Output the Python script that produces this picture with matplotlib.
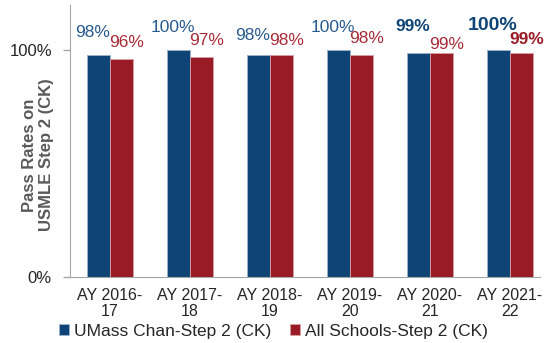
import numpy as np
import matplotlib.pyplot as plt

plt.rcParams['font.family'] = ['Liberation Sans', 'DejaVu Sans']

# Data
years = ["AY 2016-\n17", "AY 2017-\n18", "AY 2018-\n19", "AY 2019-\n20", "AY 2020-\n21", "AY 2021-\n22"]
umass = [98, 100, 98, 100, 99, 100]
all_schools = [96, 97, 98, 98, 99, 99]
umass_bold = [False, False, False, False, True, True]
all_bold = [False, False, False, False, False, True]

# label offsets above bars (style only)
umass_off = [7.9, 7.9, 6.6, 7.9, 9.7, 8.8]
all_off = [5.3, 5.3, 4.4, 5.3, 1.8, 4.0]

blue = '#0F4477'
red = '#981B25'
blue_txt = '#285A8F'
red_txt = '#A62B36'

W, H = 545, 343
fig = plt.figure(figsize=(W / 100, H / 100), dpi=100)
ax = fig.add_axes([70 / W, 1 - 277 / H, 470 / W, 272 / H])

x = np.arange(len(years))
bw = 0.2875
ax.bar(x - bw / 2, umass, bw, color=blue, edgecolor='#9DB3CC', linewidth=0.6, label="UMass Chan-Step 2 (CK)")
ax.bar(x + bw / 2, all_schools, bw, color=red, edgecolor='#D9A0A5', linewidth=0.6, label="All Schools-Step 2 (CK)")

for i in range(len(years)):
    fb = 'bold' if umass_bold[i] else 'normal'
    sb = 14 if (umass_bold[i] and i == 5) else 12.5
    ax.text(x[i] - bw / 2 - 0.07, umass[i] + umass_off[i], f"{umass[i]}%", ha='center', va='baseline',
            fontsize=sb, color=blue if umass_bold[i] else blue_txt, fontweight=fb, clip_on=False)
    fr = 'bold' if all_bold[i] else 'normal'
    ax.text(x[i] + bw / 2 + 0.06, all_schools[i] + all_off[i], f"{all_schools[i]}%", ha='center', va='baseline',
            fontsize=12.5, color=red if all_bold[i] else red_txt, fontweight=fr, clip_on=False)

ax.set_xlim(-0.5, 5.375)
ax.set_ylim(0, 120)
ax.set_yticks([0, 100])
ax.set_yticklabels(["0%", "100%"], fontsize=12, color='#262626')
ax.set_xticks(x)
ax.set_xticklabels(years, fontsize=11.5, color='#262626', linespacing=1.05)
ax.tick_params(axis='x', length=0, pad=8)
ax.tick_params(axis='y', length=5, color='#A6A6A6', width=1, pad=8)

for s in ['top', 'right']:
    ax.spines[s].set_visible(False)
for s in ['left', 'bottom']:
    ax.spines[s].set_color('#A6A6A6')

fig.text(38 / W, 1 - 155 / H, "Pass Rates on\nUSMLE Step 2 (CK)", rotation=90, ha='center', va='center',
         fontsize=12, fontweight='bold', color='#595959', linespacing=1.2)

ax.legend(loc='lower left', bbox_to_anchor=(52 / W, -3 / H), bbox_transform=fig.transFigure, ncol=2,
          frameon=False, fontsize=12.5, handlelength=0.6, handleheight=0.6, handletextpad=0.25,
          columnspacing=1.1, borderaxespad=0.0, labelcolor='#262626')

fig.savefig('out.png', dpi=100)
